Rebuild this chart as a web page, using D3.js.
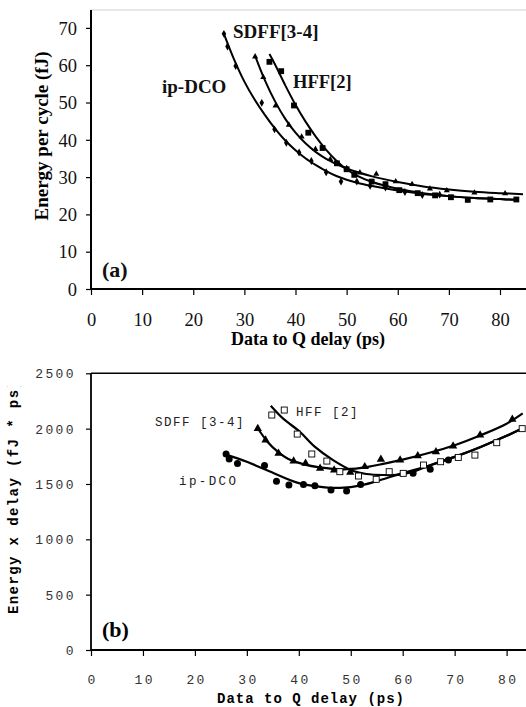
<!DOCTYPE html>
<html>
<head>
<meta charset="utf-8">
<script src="https://cdn.jsdelivr.net/npm/d3@7"></script>
<style>
  html, body { margin: 0; padding: 0; background: #fff; }
  svg { display: block; }
</style>
</head>
<body>
<div id="chart"></div>
<script>
// ---- data ----
const xTicks = [0, 10, 20, 30, 40, 50, 60, 70, 80];
const energyTicks = [0, 10, 20, 30, 40, 50, 60, 70];
const edpTicks = [0, 500, 1000, 1500, 2000, 2500];

// (a) energy per cycle (fJ) vs delay (ps)
const aDelayDco  = [26, 26.7, 28.3, 33.4, 35.9, 38.2, 40.7, 43.1, 46, 48.9, 52, 54.6, 57.6, 61.4, 64.8, 68.2];
const aEnergyDco = [68.4, 65, 59.8, 49.9, 42.8, 39.2, 36.6, 34.3, 31.3, 28.8, 28.8, 27.7, 27.2, 26, 25.2, 25.3];
const aDelaySdff  = [32.1, 33.7, 36.1, 38.7, 41.2, 43.9, 46.8, 50, 52.6, 55.8, 59.6, 62.8, 66.3, 69.6, 75, 81];
const aEnergySdff = [62.3, 56.8, 49.1, 44, 40.8, 37.5, 34.8, 32.4, 31.2, 30.8, 28.8, 28.1, 26.9, 26.4, 25.8, 25.6];
const aDelayHff  = [34.9, 37.2, 39.7, 42.5, 45.3, 48.1, 50, 51.5, 54.9, 57.6, 60.3, 63.9, 67.3, 70.4, 73.7, 78.1, 83.2];
const aEnergyHff = [60.9, 58.4, 49.2, 41.9, 37.8, 33.7, 32.1, 30.6, 28.8, 28.1, 26.5, 25.7, 25.1, 24.6, 23.9, 24, 24];

// (a) trend lines
const aTrendDcoX  = [26, 28, 30, 32, 34, 36, 38, 40, 42, 44, 46, 48, 50, 52, 55, 60, 65, 70, 75, 80, 83.2];
const aTrendDcoY  = [68.4, 61.5, 55.6, 50.8, 46.7, 43, 39.8, 37.2, 35, 33.2, 31.6, 30.3, 29.3, 28.5, 27.6, 26.4, 25.5, 24.9, 24.4, 24.1, 23.9];
const aTrendSdffX = [32.1, 34, 36, 38, 40, 42, 44, 46, 48, 50, 55, 60, 65, 70, 75, 80, 84.5];
const aTrendSdffY = [62.5, 56, 50.3, 45.6, 41.9, 39, 36.7, 34.9, 33.5, 32.3, 30.2, 28.7, 27.5, 26.7, 26.1, 25.7, 25.4];
const aTrendHffX  = [34.9, 36, 38, 40, 42, 44, 46, 48, 50, 52, 55, 60, 65, 70, 75, 80, 83.2];
const aTrendHffY  = [63, 60.2, 54.6, 49.4, 44.8, 40.8, 37.3, 34.4, 32.1, 30.4, 28.7, 26.9, 25.7, 24.9, 24.4, 24.1, 23.9];

// (b) energy x delay (fJ*ps) vs delay (ps)
const bDelayDco = [26, 26.6, 28.2, 33.4, 35.7, 38.1, 40.9, 43.1, 46.2, 49.2, 51.9, 62, 65.3, 68.8];
const bEdDco    = [1770, 1725, 1686, 1668, 1524, 1490, 1496, 1484, 1445, 1436, 1496, 1596, 1632, 1716];
const bDelaySdff = [32.1, 33.6, 36.1, 39, 41.3, 44.1, 46.8, 49.9, 52.7, 55.8, 59.5, 62.9, 66.4, 69.7, 74.9, 81.1];
const bEdSdff    = [2000, 1897, 1777, 1707, 1686, 1641, 1626, 1605, 1656, 1722, 1716, 1755, 1791, 1843, 1942, 2084];
const bDelayHff = [34.8, 37.2, 39.7, 42.5, 45.4, 47.9, 51.5, 54.9, 57.4, 60.1, 64, 67.3, 70.7, 73.9, 78.1, 83];
const bEdHff    = [2123, 2168, 1951, 1771, 1707, 1611, 1572, 1542, 1611, 1596, 1671, 1701, 1740, 1761, 1873, 2000];

const bTrendDcoX  = [26, 30, 34, 40, 45, 48, 52, 56, 60, 65, 70, 75, 80, 83.1];
const bTrendDcoY  = [1765, 1700, 1622, 1508, 1470, 1465, 1488, 1540, 1598, 1665, 1745, 1835, 1935, 2003];
const bTrendSdffX = [31.9, 34, 36, 38, 41, 44, 48.6, 52, 56, 60, 65, 70, 75, 80, 83.1];
const bTrendSdffY = [2017, 1880, 1790, 1725, 1677, 1650, 1632, 1645, 1680, 1720, 1780, 1850, 1940, 2045, 2138];
const bTrendHffX  = [34.6, 37, 40.2, 43, 46.6, 50.5, 53, 56.3, 59.5, 62, 65, 70, 75, 80, 83.1];
const bTrendHffY  = [2207, 2090, 1972, 1840, 1716, 1617, 1590, 1581, 1585, 1610, 1665, 1745, 1835, 1935, 2003];

const SERIF = '"Liberation Serif", "Times New Roman", "DejaVu Serif", serif';
const MONO  = '"Liberation Mono", "DejaVu Sans Mono", monospace';

const zip = (xs, ys) => xs.map((x, i) => [x, ys[i]]);

const W = 526, H = 707;
const svg = d3.select('#chart').append('svg')
  .attr('width', W).attr('height', H);

const defs = svg.append('defs');
defs.append('clipPath').attr('id', 'clipA')
  .append('rect').attr('x', 91).attr('y', 0).attr('width', W - 91).attr('height', 290);
defs.append('clipPath').attr('id', 'clipB')
  .append('rect').attr('x', 91).attr('y', 360).attr('width', W - 91).attr('height', 291);
defs.append('clipPath').attr('id', 'clipBTitle')
  .append('rect').attr('x', 0).attr('y', 386).attr('width', 40).attr('height', 300);

// ── Panel (a) ─────────────────────────────────────────────
const xA = d3.scaleLinear().domain([0, 80]).range([91, 500]);
const yA = d3.scaleLinear().domain([0, 75]).range([289, 9.25]);

// faint plot border at top
svg.append('line')
  .attr('x1', 91).attr('x2', W).attr('y1', 10).attr('y2', 10)
  .attr('stroke', '#d0d0d0').attr('stroke-width', 1);

const axA = svg.append('g').attr('transform', 'translate(0,289)')
  .call(d3.axisBottom(xA).tickValues(xTicks).tickSize(6).tickPadding(18).tickSizeOuter(0));
axA.select('.domain').attr('d', `M91,0H${W}`);
const ayA = svg.append('g').attr('transform', 'translate(91,0)')
  .call(d3.axisLeft(yA).tickValues(energyTicks).tickSize(5).tickPadding(9).tickSizeOuter(0));
ayA.select('.domain').attr('d', 'M0,289V10');

[axA, ayA].forEach(g => {
  g.attr('font-family', SERIF).attr('font-size', 18.5);
  g.selectAll('.domain').attr('stroke', '#000').attr('stroke-width', 2);
  g.selectAll('.tick line').attr('stroke', '#000').attr('stroke-width', 1.2);
  g.selectAll('.tick text').attr('fill', '#111');
});
ayA.selectAll('.tick text').attr('dy', '0.34em');

svg.append('text').attr('font-family', SERIF)
  .attr('x', 308).attr('y', 345).attr('text-anchor', 'middle')
  .attr('font-size', 18).attr('font-weight', 'bold')
  .text('Data to Q delay (ps)');
svg.append('text').attr('font-family', SERIF)
  .attr('transform', 'translate(48,136) rotate(-90)').attr('text-anchor', 'middle')
  .attr('font-size', 19).attr('font-weight', 'bold')
  .text('Energy per cycle (fJ)');

const lineA = d3.line().x(d => xA(d[0])).y(d => yA(d[1])).curve(d3.curveCatmullRom);
const plotA = svg.append('g').attr('clip-path', 'url(#clipA)');
[[aTrendDcoX, aTrendDcoY], [aTrendSdffX, aTrendSdffY], [aTrendHffX, aTrendHffY]].forEach(([xs, ys]) => {
  plotA.append('path').datum(zip(xs, ys))
    .attr('d', lineA).attr('fill', 'none')
    .attr('stroke', '#000').attr('stroke-width', 2);
});

const symA = [
  { data: zip(aDelayDco, aEnergyDco), type: d3.symbolDiamond, size: 18 },
  { data: zip(aDelaySdff, aEnergySdff), type: d3.symbolTriangle, size: 16 },
  { data: zip(aDelayHff, aEnergyHff), type: d3.symbolSquare, size: 34 }
];
symA.forEach(s => {
  plotA.append('g').selectAll('path').data(s.data).enter().append('path')
    .attr('transform', d => `translate(${xA(d[0])},${yA(d[1])})`)
    .attr('d', d3.symbol().type(s.type).size(s.size))
    .attr('fill', '#000');
});

const labA = svg.append('g').attr('font-family', SERIF).attr('font-weight', 'bold').attr('fill', '#111');
labA.append('text').attr('x', 233).attr('y', 38).attr('font-size', 19).text('SDFF[3-4]');
labA.append('text').attr('x', 293).attr('y', 88).attr('font-size', 18.5).text('HFF[2]');
labA.append('text').attr('x', 162).attr('y', 93).attr('font-size', 19).text('ip-DCO');
labA.append('text').attr('x', 102).attr('y', 277).attr('font-size', 22).text('(a)');

// ── Panel (b) ─────────────────────────────────────────────
const xB = d3.scaleLinear().domain([0, 80]).range([91, 506.6]);
const yB = d3.scaleLinear().domain([0, 2500]).range([650, 373.3]);

svg.append('line')
  .attr('x1', 91).attr('x2', W).attr('y1', 373.3).attr('y2', 373.3)
  .attr('stroke', '#000').attr('stroke-width', 1.5);

const axB = svg.append('g').attr('transform', 'translate(0,650)')
  .call(d3.axisBottom(xB).tickValues(xTicks).tickFormat(d3.format('d'))
    .tickSize(6).tickPadding(19).tickSizeOuter(0));
axB.select('.domain').attr('d', `M91,0H${W}`);
const ayB = svg.append('g').attr('transform', 'translate(91,0)')
  .call(d3.axisLeft(yB).tickValues(edpTicks).tickFormat(d3.format('d'))
    .tickSize(5).tickPadding(10).tickSizeOuter(0));
ayB.select('.domain').attr('d', 'M0,650V373.3');

[axB, ayB].forEach(g => {
  g.attr('font-family', MONO).attr('font-size', 13);
  g.selectAll('.domain').attr('stroke', '#000').attr('stroke-width', 1.8);
  g.selectAll('.tick line').attr('stroke', '#000').attr('stroke-width', 1.2);
  g.selectAll('.tick text').attr('letter-spacing', '2.4px').attr('fill', '#333');
});
ayB.selectAll('.tick text').attr('dy', '0.34em');
axB.selectAll('.tick text').attr('dx', '1.2px');

svg.append('text').attr('font-family', MONO)
  .attr('x', 311).attr('y', 703).attr('text-anchor', 'middle')
  .attr('font-size', 14).attr('font-weight', 'bold').attr('letter-spacing', '1px')
  .text('Data to Q delay (ps)');
svg.append('g').attr('clip-path', 'url(#clipBTitle)')
  .append('text').attr('font-family', MONO)
  .attr('transform', 'translate(18,614) rotate(-90)').attr('text-anchor', 'start')
  .attr('font-size', 14).attr('font-weight', 'bold').attr('letter-spacing', '1.4px')
  .text('Energy x delay (fJ * ps)');

const lineB = d3.line().x(d => xB(d[0])).y(d => yB(d[1])).curve(d3.curveCatmullRom);
const plotB = svg.append('g').attr('clip-path', 'url(#clipB)');
[[bTrendDcoX, bTrendDcoY], [bTrendSdffX, bTrendSdffY], [bTrendHffX, bTrendHffY]].forEach(([xs, ys]) => {
  plotB.append('path').datum(zip(xs, ys))
    .attr('d', lineB).attr('fill', 'none')
    .attr('stroke', '#000').attr('stroke-width', 2.2);
});

plotB.append('g').selectAll('circle').data(zip(bDelayDco, bEdDco)).enter().append('circle')
  .attr('cx', d => xB(d[0])).attr('cy', d => yB(d[1])).attr('r', 3.5).attr('fill', '#000');
plotB.append('g').selectAll('path').data(zip(bDelaySdff, bEdSdff)).enter().append('path')
  .attr('transform', d => `translate(${xB(d[0])},${yB(d[1])})`)
  .attr('d', d3.symbol().type(d3.symbolTriangle).size(30)).attr('fill', '#000');
plotB.append('g').selectAll('rect').data(zip(bDelayHff, bEdHff)).enter().append('rect')
  .attr('x', d => xB(d[0]) - 3).attr('y', d => yB(d[1]) - 3)
  .attr('width', 6).attr('height', 6)
  .attr('fill', '#fff').attr('stroke', '#000').attr('stroke-width', 0.9);

const labB = svg.append('g').attr('font-family', MONO).attr('font-size', 12.5).attr('fill', '#222');
labB.append('text').attr('x', 155).attr('y', 426).attr('letter-spacing', '1.5px').text('SDFF [3-4]');
labB.append('text').attr('x', 296).attr('y', 416).attr('letter-spacing', '1.5px').text('HFF [2]');
labB.append('text').attr('x', 179).attr('y', 485).attr('letter-spacing', '2.4px').text('ip-DCO');
svg.append('text').attr('font-family', SERIF).attr('x', 102).attr('y', 637)
  .attr('font-size', 22).attr('font-weight', 'bold').text('(b)');
</script>
</body>
</html>
